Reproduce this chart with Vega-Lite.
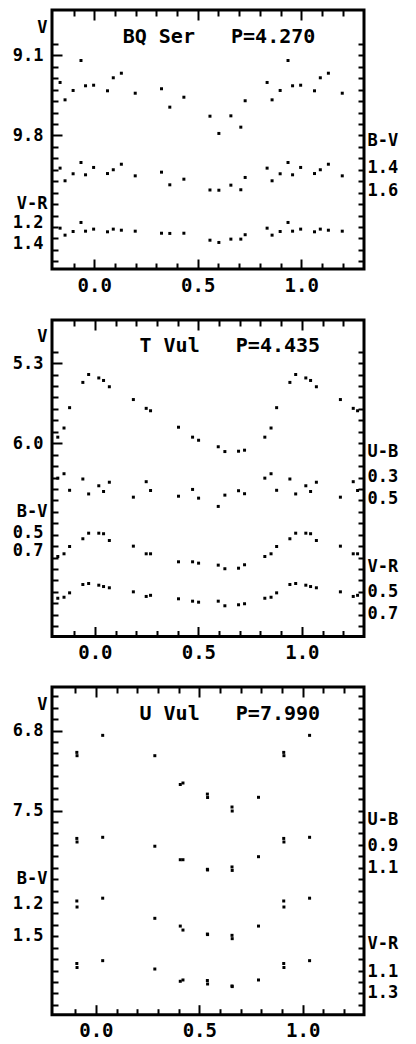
{
  "$schema": "https://vega.github.io/schema/vega-lite/v6.json",
  "background": "white",
  "padding": {"left": 10, "top": 7, "right": 0, "bottom": 0},
  "spacing": 16,
  "config": {
    "view": {"stroke": "black", "strokeWidth": 3},
    "axis": {
      "domain": false, "grid": false, "tickColor": "black", "tickWidth": 2,
      "labelFont": "DejaVu Sans Mono", "labelFontSize": 17, "labelFontWeight": "bold", "labelColor": "black",
      "titleFont": "DejaVu Sans Mono", "titleFontSize": 17, "titleFontWeight": "bold", "titleColor": "black",
      "titleAngle": 0, "titleBaseline": "middle", "labelOverlap": false, "labelFlush": false
    },
    "axisBottom": {"labelFontSize": 19},
    "title": {"font": "DejaVu Sans Mono", "fontSize": 20, "fontWeight": "bold", "color": "black"}
  },
  "datasets": {
    "bqser": [
      {"p": -0.165, "V": 9.336, "BV": 1.403, "VR": 1.253},
      {"p": 0.835, "V": 9.336, "BV": 1.403, "VR": 1.253},
      {"p": -0.141, "V": 9.488, "BV": 1.513, "VR": 1.318},
      {"p": 0.859, "V": 9.488, "BV": 1.513, "VR": 1.318},
      {"p": -0.102, "V": 9.406, "BV": 1.452, "VR": 1.284},
      {"p": 0.898, "V": 9.406, "BV": 1.452, "VR": 1.284},
      {"p": -0.064, "V": 9.144, "BV": 1.354, "VR": 1.2},
      {"p": 0.936, "V": 9.144, "BV": 1.354, "VR": 1.2},
      {"p": -0.042, "V": 9.365, "BV": 1.461, "VR": 1.281},
      {"p": 0.958, "V": 9.365, "BV": 1.461, "VR": 1.281},
      {"p": -0.003, "V": 9.36, "BV": 1.397, "VR": 1.262},
      {"p": 0.997, "V": 9.36, "BV": 1.397, "VR": 1.262},
      {"p": 0.064, "V": 9.409, "BV": 1.45, "VR": 1.287},
      {"p": 1.064, "V": 9.409, "BV": 1.45, "VR": 1.287},
      {"p": 0.092, "V": 9.295, "BV": 1.417, "VR": 1.262},
      {"p": 1.092, "V": 9.295, "BV": 1.417, "VR": 1.262},
      {"p": 0.131, "V": 9.255, "BV": 1.369, "VR": 1.272},
      {"p": 1.131, "V": 9.255, "BV": 1.369, "VR": 1.272},
      {"p": 0.198, "V": 9.43, "BV": 1.47, "VR": 1.281},
      {"p": 1.198, "V": 9.43, "BV": 1.47, "VR": 1.281},
      {"p": 0.325, "V": 9.391, "BV": 1.438, "VR": 1.3},
      {"p": 0.365, "V": 9.552, "BV": 1.548, "VR": 1.302},
      {"p": 0.433, "V": 9.465, "BV": 1.499, "VR": 1.3},
      {"p": 0.559, "V": 9.631, "BV": 1.593, "VR": 1.365},
      {"p": 0.602, "V": 9.782, "BV": 1.595, "VR": 1.386},
      {"p": 0.66, "V": 9.628, "BV": 1.551, "VR": 1.355},
      {"p": 0.708, "V": 9.727, "BV": 1.591, "VR": 1.355},
      {"p": 0.729, "V": 9.496, "BV": 1.484, "VR": 1.314}
    ],
    "tvul": [
      {"p": -0.179, "V": 5.947, "UB": 0.311, "BV": 0.767, "VR": 0.56},
      {"p": 0.821, "V": 5.947, "UB": 0.311, "BV": 0.767, "VR": 0.56},
      {"p": -0.149, "V": 5.867, "UB": 0.27, "BV": 0.737, "VR": 0.551},
      {"p": 0.851, "V": 5.867, "UB": 0.27, "BV": 0.737, "VR": 0.551},
      {"p": -0.122, "V": 5.689, "UB": 0.424, "BV": 0.656, "VR": 0.512},
      {"p": 0.878, "V": 5.689, "UB": 0.424, "BV": 0.656, "VR": 0.512},
      {"p": -0.058, "V": 5.468, "UB": 0.319, "BV": 0.57, "VR": 0.438},
      {"p": 0.942, "V": 5.468, "UB": 0.319, "BV": 0.57, "VR": 0.438},
      {"p": -0.03, "V": 5.399, "UB": 0.458, "BV": 0.508, "VR": 0.429},
      {"p": 0.97, "V": 5.399, "UB": 0.458, "BV": 0.508, "VR": 0.429},
      {"p": 0.019, "V": 5.429, "UB": 0.382, "BV": 0.508, "VR": 0.444},
      {"p": 1.019, "V": 5.429, "UB": 0.382, "BV": 0.508, "VR": 0.444},
      {"p": 0.042, "V": 5.451, "UB": 0.435, "BV": 0.514, "VR": 0.456},
      {"p": 1.042, "V": 5.451, "UB": 0.435, "BV": 0.514, "VR": 0.456},
      {"p": 0.07, "V": 5.506, "UB": 0.349, "BV": 0.589, "VR": 0.467},
      {"p": 1.07, "V": 5.506, "UB": 0.349, "BV": 0.589, "VR": 0.467},
      {"p": 0.186, "V": 5.618, "UB": 0.488, "BV": 0.652, "VR": 0.503},
      {"p": 1.186, "V": 5.618, "UB": 0.488, "BV": 0.652, "VR": 0.503},
      {"p": 0.248, "V": 5.695, "UB": 0.344, "BV": 0.737, "VR": 0.544},
      {"p": 1.248, "V": 5.695, "UB": 0.344, "BV": 0.737, "VR": 0.544},
      {"p": 0.269, "V": 5.716, "UB": 0.426, "BV": 0.737, "VR": 0.534},
      {"p": 1.269, "V": 5.716, "UB": 0.426, "BV": 0.737, "VR": 0.534},
      {"p": 0.404, "V": 5.86, "UB": 0.479, "BV": 0.826, "VR": 0.565},
      {"p": 0.472, "V": 5.947, "UB": 0.416, "BV": 0.826, "VR": 0.586},
      {"p": 0.501, "V": 5.974, "UB": 0.497, "BV": 0.841, "VR": 0.595},
      {"p": 0.596, "V": 6.031, "UB": 0.574, "BV": 0.863, "VR": 0.586},
      {"p": 0.628, "V": 6.073, "UB": 0.469, "BV": 0.903, "VR": 0.627},
      {"p": 0.694, "V": 6.07, "UB": 0.428, "BV": 0.897, "VR": 0.618},
      {"p": 0.723, "V": 6.061, "UB": 0.456, "BV": 0.859, "VR": 0.609}
    ],
    "uvul": [
      {"p": -0.092, "V": 6.991, "UB": 0.835, "BV": 1.181, "VR": 1.028},
      {"p": 0.908, "V": 6.991, "UB": 0.835, "BV": 1.181, "VR": 1.028},
      {"p": -0.091, "V": 7.02, "UB": 0.867, "BV": 1.237, "VR": 1.065},
      {"p": 0.909, "V": 7.02, "UB": 0.867, "BV": 1.237, "VR": 1.065},
      {"p": 0.033, "V": 6.842, "UB": 0.825, "BV": 1.155, "VR": 1.002},
      {"p": 1.033, "V": 6.842, "UB": 0.825, "BV": 1.155, "VR": 1.002},
      {"p": 0.285, "V": 7.02, "UB": 0.905, "BV": 1.342, "VR": 1.079},
      {"p": 0.408, "V": 7.272, "UB": 1.026, "BV": 1.414, "VR": 1.192},
      {"p": 0.421, "V": 7.259, "UB": 1.026, "BV": 1.451, "VR": 1.18},
      {"p": 0.539, "V": 7.356, "UB": 1.112, "BV": 1.488, "VR": 1.185},
      {"p": 0.54, "V": 7.386, "UB": 1.118, "BV": 1.493, "VR": 1.217},
      {"p": 0.658, "V": 7.469, "UB": 1.091, "BV": 1.5, "VR": 1.235},
      {"p": 0.659, "V": 7.504, "UB": 1.122, "BV": 1.531, "VR": 1.241},
      {"p": 0.786, "V": 7.384, "UB": 0.999, "BV": 1.414, "VR": 1.18}
    ]
  },
  "vconcat": [
    {
      "width": 312, "height": 259,
      "title": {"text": "BQ Ser\u00a0\u00a0\u00a0P=4.270", "anchor": "middle", "frame": "group", "dx": 11, "offset": -47.5, "baseline": "middle"},
      "data": {"name": "bqser"},
      "resolve": {"scale": {"y": "independent"}, "axis": {"x": "independent", "y": "independent"}},
      "layer": [
        {
          "mark": {"type": "point", "shape": "square", "filled": true, "size": 9, "color": "black", "opacity": 1},
          "encoding": {
            "x": {"field": "p", "type": "quantitative", "scale": {"domain": [-0.204, 1.303], "nice": false, "zero": false},
              "axis": {"orient": "bottom", "values": [-0.1, 0, 0.1, 0.2, 0.3, 0.4, 0.5, 0.6, 0.7, 0.8, 0.9, 1, 1.1, 1.2], "format": ".1f",
                "labelExpr": "datum.value == 0 || datum.value == 0.5 || datum.value == 1 ? datum.label : ''",
                "tickSize": {"condition": {"test": "datum.value == 0 || datum.value == 0.5 || datum.value == 1", "value": -10}, "value": -6},
                "labelPadding": 17, "title": null}},
            "y": {"field": "V", "type": "quantitative", "scale": {"domain": [8.702, 10.968], "reverse": true, "nice": false, "zero": false},
              "axis": {"orient": "left", "values": [9, 9.1, 9.2, 9.3, 9.4, 9.5, 9.6, 9.7, 9.8, 9.9, 10, 10.1, 10.2, 10.3, 10.4, 10.5, 10.6, 10.7, 10.8, 10.9], "format": ".1f",
                "labelExpr": "datum.value == 9.1 || datum.value == 9.8 ? datum.label : ''",
                "tickSize": {"condition": {"test": "datum.value == 9.1 || datum.value == 9.8", "value": -10}, "value": -6},
                "labelPadding": 19, "title": "V", "titleX": -5, "titleY": 17.5, "titleAlign": "right"}}
          }
        },
        {
          "mark": {"type": "point", "shape": "square", "filled": true, "size": 9, "color": "black", "opacity": 1},
          "encoding": {
            "x": {"field": "p", "type": "quantitative",
              "axis": {"orient": "top", "values": [-0.1, 0, 0.1, 0.2, 0.3, 0.4, 0.5, 0.6, 0.7, 0.8, 0.9, 1, 1.1, 1.2], "labels": false,
                "tickSize": {"condition": {"test": "datum.value == 0 || datum.value == 0.5 || datum.value == 1", "value": -10}, "value": -6},
                "title": null}},
            "y": {"field": "VR", "type": "quantitative", "scale": {"domain": [-0.777, 1.633], "reverse": true, "nice": false, "zero": false},
              "axis": {"orient": "left", "values": [1.2, 1.4], "format": ".1f", "ticks": false, "labelPadding": 9,
                "title": "V-R", "titleX": -5, "titleY": 193, "titleAlign": "right"}}
          }
        },
        {
          "mark": {"type": "point", "shape": "square", "filled": true, "size": 9, "color": "black", "opacity": 1},
          "encoding": {
            "x": {"field": "p", "type": "quantitative", "axis": null},
            "y": {"field": "BV", "type": "quantitative", "scale": {"domain": [0.028, 2.28], "reverse": true, "nice": false, "zero": false},
              "axis": {"orient": "right", "values": [1.4, 1.6], "format": ".1f", "ticks": false, "labelPadding": 3,
                "title": "B-V", "titleX": 3, "titleY": 130.5, "titleAlign": "left"}}
          }
        },
        {
          "mark": {"type": "point", "shape": "square", "filled": true, "size": 9, "color": "black", "opacity": 0},
          "encoding": {
            "x": {"field": "p", "type": "quantitative", "axis": null},
            "y": {"field": "V", "type": "quantitative", "scale": {"domain": [8.702, 10.968], "reverse": true, "nice": false, "zero": false},
              "axis": {"orient": "right", "values": [9, 9.1, 9.2, 9.3, 9.4, 9.5, 9.6, 9.7, 9.8, 9.9, 10, 10.1, 10.2, 10.3, 10.4, 10.5, 10.6, 10.7, 10.8, 10.9],
                "labels": false, "tickSize": -6, "title": null}}
          }
        }
      ]
    },
    {
      "width": 312, "height": 316.5,
      "title": {"text": "T Vul\u00a0\u00a0\u00a0P=4.435", "anchor": "middle", "frame": "group", "dx": 21.8, "offset": -46.5, "baseline": "middle"},
      "data": {"name": "tvul"},
      "resolve": {"scale": {"y": "independent"}, "axis": {"x": "independent", "y": "independent"}},
      "layer": [
        {
          "mark": {"type": "point", "shape": "square", "filled": true, "size": 9, "color": "black", "opacity": 1},
          "encoding": {
            "x": {"field": "p", "type": "quantitative", "scale": {"domain": [-0.207, 1.3], "nice": false, "zero": false},
              "axis": {"orient": "bottom", "values": [-0.1, 0, 0.1, 0.2, 0.3, 0.4, 0.5, 0.6, 0.7, 0.8, 0.9, 1, 1.1, 1.2], "format": ".1f",
                "labelExpr": "datum.value == 0 || datum.value == 0.5 || datum.value == 1 ? datum.label : ''",
                "tickSize": {"condition": {"test": "datum.value == 0 || datum.value == 0.5 || datum.value == 1", "value": -10}, "value": -6},
                "labelPadding": 17, "title": null}},
            "y": {"field": "V", "type": "quantitative", "scale": {"domain": [4.922, 7.691], "reverse": true, "nice": false, "zero": false},
              "axis": {"orient": "left", "values": [5.2, 5.3, 5.4, 5.5, 5.6, 5.7, 5.8, 5.9, 6, 6.1, 6.2, 6.3, 6.4, 6.5, 6.6, 6.7, 6.8, 6.9, 7, 7.1, 7.2, 7.3, 7.4, 7.5, 7.6], "format": ".1f",
                "labelExpr": "datum.value == 5.3 || datum.value == 6 ? datum.label : ''",
                "tickSize": {"condition": {"test": "datum.value == 5.3 || datum.value == 6", "value": -10}, "value": -6},
                "labelPadding": 19, "title": "V", "titleX": -5, "titleY": 16, "titleAlign": "right"}}
          }
        },
        {
          "mark": {"type": "point", "shape": "square", "filled": true, "size": 9, "color": "black", "opacity": 1},
          "encoding": {
            "x": {"field": "p", "type": "quantitative",
              "axis": {"orient": "top", "values": [-0.1, 0, 0.1, 0.2, 0.3, 0.4, 0.5, 0.6, 0.7, 0.8, 0.9, 1, 1.1, 1.2], "labels": false,
                "tickSize": {"condition": {"test": "datum.value == 0 || datum.value == 0.5 || datum.value == 1", "value": -10}, "value": -6},
                "title": null}},
            "y": {"field": "BV", "type": "quantitative", "scale": {"domain": [-1.861, 1.656], "reverse": true, "nice": false, "zero": false},
              "axis": {"orient": "left", "values": [0.5, 0.7], "format": ".1f", "ticks": false, "labelPadding": 9,
                "title": "B-V", "titleX": -5, "titleY": 191, "titleAlign": "right"}}
          }
        },
        {
          "mark": {"type": "point", "shape": "square", "filled": true, "size": 9, "color": "black", "opacity": 1},
          "encoding": {
            "x": {"field": "p", "type": "quantitative", "axis": null},
            "y": {"field": "UB", "type": "quantitative", "scale": {"domain": [-1.16, 1.784], "reverse": true, "nice": false, "zero": false},
              "axis": {"orient": "right", "values": [0.3, 0.5], "format": ".1f", "ticks": false, "labelPadding": 3,
                "title": "U-B", "titleX": 3, "titleY": 131.5, "titleAlign": "left"}}
          }
        },
        {
          "mark": {"type": "point", "shape": "square", "filled": true, "size": 9, "color": "black", "opacity": 1},
          "encoding": {
            "x": {"field": "p", "type": "quantitative", "axis": null},
            "y": {"field": "VR", "type": "quantitative", "scale": {"domain": [-1.913, 0.9], "reverse": true, "nice": false, "zero": false},
              "axis": {"orient": "right", "values": [0.5, 0.7], "format": ".1f", "ticks": false, "labelPadding": 3,
                "title": "V-R", "titleX": 3, "titleY": 246.5, "titleAlign": "left"}}
          }
        },
        {
          "mark": {"type": "point", "shape": "square", "filled": true, "size": 9, "color": "black", "opacity": 0},
          "encoding": {
            "x": {"field": "p", "type": "quantitative", "axis": null},
            "y": {"field": "V", "type": "quantitative", "scale": {"domain": [4.922, 7.691], "reverse": true, "nice": false, "zero": false},
              "axis": {"orient": "right", "values": [5.2, 5.3, 5.4, 5.5, 5.6, 5.7, 5.8, 5.9, 6, 6.1, 6.2, 6.3, 6.4, 6.5, 6.6, 6.7, 6.8, 6.9, 7, 7.1, 7.2, 7.3, 7.4, 7.5, 7.6],
                "labels": false, "tickSize": -6, "title": null}}
          }
        }
      ]
    },
    {
      "width": 312, "height": 327.7,
      "title": {"text": "U Vul\u00a0\u00a0\u00a0P=7.990", "anchor": "middle", "frame": "group", "dx": 21.8, "offset": -48, "baseline": "middle"},
      "data": {"name": "uvul"},
      "resolve": {"scale": {"y": "independent"}, "axis": {"x": "independent", "y": "independent"}},
      "layer": [
        {
          "mark": {"type": "point", "shape": "square", "filled": true, "size": 9, "color": "black", "opacity": 1},
          "encoding": {
            "x": {"field": "p", "type": "quantitative", "scale": {"domain": [-0.212, 1.296], "nice": false, "zero": false},
              "axis": {"orient": "bottom", "values": [-0.1, 0, 0.1, 0.2, 0.3, 0.4, 0.5, 0.6, 0.7, 0.8, 0.9, 1, 1.1, 1.2], "format": ".1f",
                "labelExpr": "datum.value == 0 || datum.value == 0.5 || datum.value == 1 ? datum.label : ''",
                "tickSize": {"condition": {"test": "datum.value == 0 || datum.value == 0.5 || datum.value == 1", "value": -10}, "value": -6},
                "labelPadding": 17, "title": null}},
            "y": {"field": "V", "type": "quantitative", "scale": {"domain": [6.419, 9.286], "reverse": true, "nice": false, "zero": false},
              "axis": {"orient": "left", "values": [6.5, 6.6, 6.7, 6.8, 6.9, 7, 7.1, 7.2, 7.3, 7.4, 7.5, 7.6, 7.7, 7.8, 7.9, 8, 8.1, 8.2, 8.3, 8.4, 8.5, 8.6, 8.7, 8.8, 8.9, 9, 9.1, 9.2], "format": ".1f",
                "labelExpr": "datum.value == 6.8 || datum.value == 7.5 ? datum.label : ''",
                "tickSize": {"condition": {"test": "datum.value == 6.8 || datum.value == 7.5", "value": -10}, "value": -6},
                "labelPadding": 19, "title": "V", "titleX": -5, "titleY": 17.7, "titleAlign": "right"}}
          }
        },
        {
          "mark": {"type": "point", "shape": "square", "filled": true, "size": 9, "color": "black", "opacity": 1},
          "encoding": {
            "x": {"field": "p", "type": "quantitative",
              "axis": {"orient": "top", "values": [-0.1, 0, 0.1, 0.2, 0.3, 0.4, 0.5, 0.6, 0.7, 0.8, 0.9, 1, 1.1, 1.2], "labels": false,
                "tickSize": {"condition": {"test": "datum.value == 0 || datum.value == 0.5 || datum.value == 1", "value": -10}, "value": -6},
                "title": null}},
            "y": {"field": "BV", "type": "quantitative", "scale": {"domain": [-0.806, 2.237], "reverse": true, "nice": false, "zero": false},
              "axis": {"orient": "left", "values": [1.2, 1.5], "format": ".1f", "ticks": false, "labelPadding": 9,
                "title": "B-V", "titleX": -5, "titleY": 191, "titleAlign": "right"}}
          }
        },
        {
          "mark": {"type": "point", "shape": "square", "filled": true, "size": 9, "color": "black", "opacity": 1},
          "encoding": {
            "x": {"field": "p", "type": "quantitative", "axis": null},
            "y": {"field": "UB", "type": "quantitative", "scale": {"domain": [-0.523, 2.416], "reverse": true, "nice": false, "zero": false},
              "axis": {"orient": "right", "values": [0.9, 1.1], "format": ".1f", "ticks": false, "labelPadding": 3,
                "title": "U-B", "titleX": 3, "titleY": 132.7, "titleAlign": "left"}}
          }
        },
        {
          "mark": {"type": "point", "shape": "square", "filled": true, "size": 9, "color": "black", "opacity": 1},
          "encoding": {
            "x": {"field": "p", "type": "quantitative", "axis": null},
            "y": {"field": "VR", "type": "quantitative", "scale": {"domain": [-1.52, 1.5], "reverse": true, "nice": false, "zero": false},
              "axis": {"orient": "right", "values": [1.1, 1.3], "format": ".1f", "ticks": false, "labelPadding": 3,
                "title": "V-R", "titleX": 3, "titleY": 256, "titleAlign": "left"}}
          }
        },
        {
          "mark": {"type": "point", "shape": "square", "filled": true, "size": 9, "color": "black", "opacity": 0},
          "encoding": {
            "x": {"field": "p", "type": "quantitative", "axis": null},
            "y": {"field": "V", "type": "quantitative", "scale": {"domain": [6.419, 9.286], "reverse": true, "nice": false, "zero": false},
              "axis": {"orient": "right", "values": [6.5, 6.6, 6.7, 6.8, 6.9, 7, 7.1, 7.2, 7.3, 7.4, 7.5, 7.6, 7.7, 7.8, 7.9, 8, 8.1, 8.2, 8.3, 8.4, 8.5, 8.6, 8.7, 8.8, 8.9, 9, 9.1, 9.2],
                "labels": false, "tickSize": -6, "title": null}}
          }
        }
      ]
    }
  ]
}
